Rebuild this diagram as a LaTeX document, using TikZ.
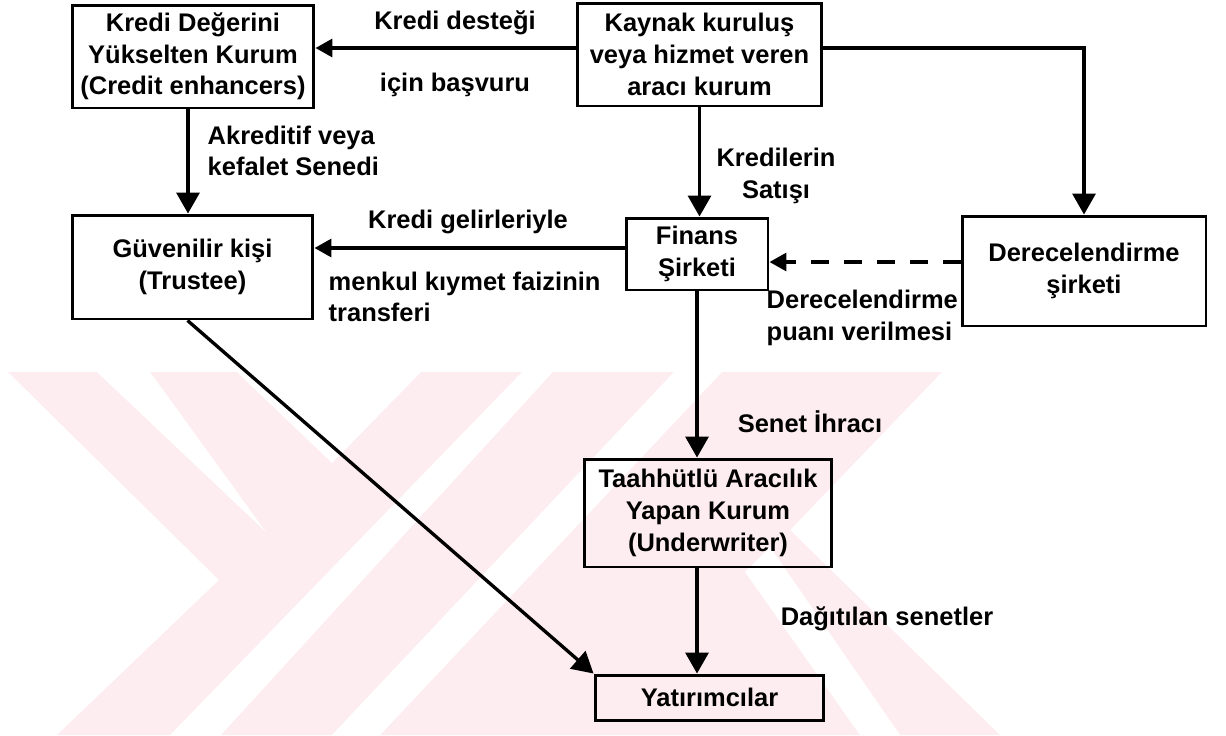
\documentclass[tikz,border=0pt]{standalone}
\usepackage{fontspec}
\setmainfont{Liberation Sans}
\usetikzlibrary{arrows.meta, positioning}
\usepackage{xcolor}
\definecolor{wmpink}{RGB}{253,237,240}

\begin{document}
\begin{tikzpicture}[
    x=0.02cm, y=-0.02cm,
    thick,
    box/.style={draw, line width=1.7pt, align=center, inner sep=0pt, font=\bfseries\fontsize{14.5}{18}\selectfont},
    lbl/.style={inner sep=0pt, align=left, font=\bfseries\fontsize{14.5}{18}\selectfont},
    arr/.style={line width=1.9pt, -{Triangle[length=4.2mm, width=4.6mm]}},
    small arr/.style={line width=1.9pt, -{Triangle[length=3.4mm, width=3.6mm]}}
]
    \useasboundingbox (0,0) rectangle (1226,735);

    % Watermark
    \fill[wmpink] (8,372) -- (522,372) -- (170,735) -- (57,735) -- (219,580) -- cycle;
    \fill[white] (97,372) -- (150,372) -- (266,532) -- cycle;
    \fill[white] (237,372) -- (421,372) -- (332,463) -- cycle;
    \fill[wmpink] (553,372) -- (942,372) -- (790,530) -- (1000,735) -- (221,735) -- cycle;
    \fill[white] (674,372) -- (722,372) -- (380,735) -- (332,735) -- cycle;
    \fill[white] (745,572) -- (770,547) -- (900,735) -- (860,735) -- cycle;

    % Nodes
    \node[box, minimum width=4.84cm, minimum height=2.06cm] (A) at (193,56.5) {Kredi Değerini\\Yükselten Kurum\\(Credit enhancers)};
    \node[box, minimum width=4.9cm, minimum height=2.06cm] (B) at (699.5,54.5) {Kaynak kuruluş\\veya hizmet veren\\aracı kurum};
    \node[box, minimum width=4.82cm, minimum height=2.08cm] (C) at (192.5,267) {Güvenilir kişi\\(Trustee)};
    \node[box, minimum width=2.84cm, minimum height=1.44cm] (D) at (697,254) {Finans\\Şirketi};
    \node[box, minimum width=4.88cm, minimum height=2.2cm] (E) at (1084,271) {Derecelendirme\\şirketi};
    \node[box, minimum width=4.96cm, minimum height=2.16cm] (F) at (708,513) {Taahhütlü Aracılık\\Yapan Kurum\\(Underwriter)};
    \node[box, minimum width=4.58cm, minimum height=0.9cm] (G) at (709.5,697.5) {Yatırımcılar};

    % Labels
    \node[lbl] (kd) at (455,23) {Kredi desteği};
    \node[lbl] (ib) at (455,85) {için başvuru};
    \node[lbl, anchor=west] (ak) at (207,151) {Akreditif veya\\kefalet Senedi};
    \node[lbl, align=center] (ks) at (776,176) {Kredilerin\\Satışı};
    \node[lbl] (kg) at (468,222) {Kredi gelirleriyle};
    \node[lbl, anchor=west] (mk) at (328,297) {menkul kıymet faizinin\\transferi};
    \node[lbl, anchor=west] (dp) at (766,318) {Derecelendirme\\puanı verilmesi};
    \node[lbl] (si) at (810,422) {Senet İhracı};
    \node[lbl] (ds) at (887,619) {Dağıtılan senetler};

    % Edges
    \draw[small arr] ([yshift=0.13cm]B.west) -- ([yshift=0.13cm]B.west -| A.east);
    \draw[arr] ([yshift=0.13cm]B.east) -| (E.north);
    \draw[arr] (B.south) -- (B.south |- D.north);
    \draw[arr] ([xshift=-0.1cm]A.south) -- ([xshift=-0.1cm]A.south |- C.north);
    \draw[small arr] ([yshift=0.12cm]D.west) -- ([yshift=0.12cm]D.west -| C.east);
    \draw[small arr, dash pattern=on 0.36cm off 0.3cm] ([yshift=0.18cm]E.west) -- ([yshift=0.18cm]E.west -| D.east);
    \draw[arr] (D.south) -- (D.south |- F.north);
    \draw[arr] (D.south |- F.south) -- (D.south |- G.north);
    \draw[arr] ([xshift=-0.1cm]C.south) -- (G.north west);
\end{tikzpicture}
\end{document}
